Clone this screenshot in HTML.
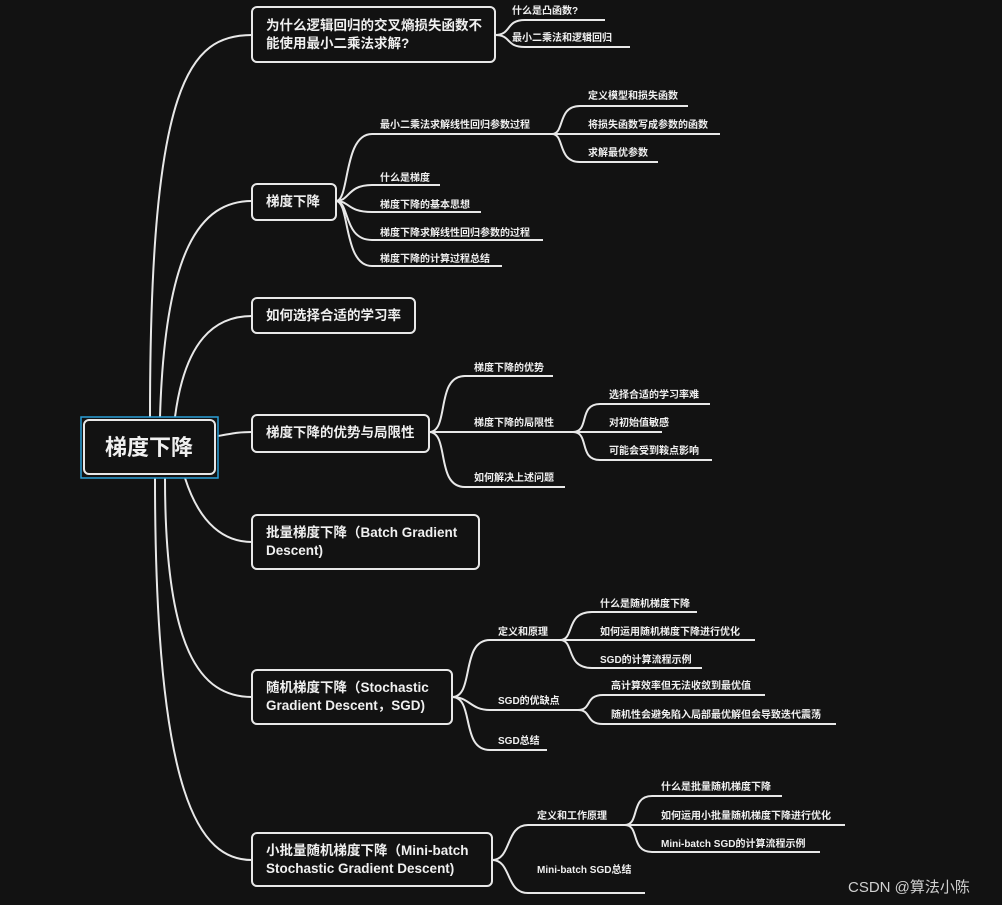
<!DOCTYPE html>
<html><head><meta charset="utf-8"><style>
html,body{margin:0;padding:0;background:#121212;}
svg{display:block}
text{font-family:"Liberation Sans","Noto Sans CJK SC",sans-serif;fill:#f0f0f0;font-weight:bold}
.b{font-size:13.5px}
.l{font-size:10px}
path,line{stroke:#e8e8e8;stroke-width:2;fill:none}
rect.n{fill:#121212;stroke:#e8e8e8;stroke-width:2}
</style></head><body>
<svg width="1002" height="905" viewBox="0 0 1002 905">
<rect width="1002" height="905" fill="#121212"/>
<path d="M150 417 C150 80,190 35,252 35"/>
<path d="M160 417 C165 250,200 201,252 201"/>
<path d="M175 417 C185 340,215 316,252 316"/>
<path d="M218 436 C235 433,240 432,252 432"/>
<path d="M185 478 C200 525,225 542,252 542"/>
<path d="M165 478 C165 650,200 697,252 697"/>
<path d="M155 478 C155 800,200 860,252 860"/>

<rect x="81" y="417" width="137" height="61" fill="none" stroke="#2a9fd8" stroke-width="1.5"/>
<rect class="n" x="84" y="420" width="131" height="54" rx="5" stroke-width="3"/>
<text x="149" y="455" text-anchor="middle" style="font-size:22px">梯度下降</text>

<rect class="n" x="252" y="7" width="243" height="55" rx="5"/>
<text class="b" x="266" y="30">为什么逻辑回归的交叉熵损失函数不</text>
<text class="b" x="266" y="48">能使用最小二乘法求解?</text>
<path d="M495 35 C512 35,505 20,525 20 L605 20"/>
<path d="M495 35 C512 35,505 47,525 47 L630 47"/>
<text class="l" x="512" y="14">什么是凸函数?</text>
<text class="l" x="512" y="41">最小二乘法和逻辑回归</text>

<rect class="n" x="252" y="184" width="84" height="36" rx="5"/>
<text class="b" x="266" y="206">梯度下降</text>
<path d="M336 201 C350 201,343 134,372 134 L552 134"/>
<path d="M336 201 C350 201,347 185,372 185 L440 185"/>
<path d="M336 201 C350 201,347 212,372 212 L481 212"/>
<path d="M336 201 C350 201,343 240,372 240 L543 240"/>
<path d="M336 201 C350 201,343 266,372 266 L502 266"/>
<text class="l" x="380" y="128">最小二乘法求解线性回归参数过程</text>
<text class="l" x="380" y="181">什么是梯度</text>
<text class="l" x="380" y="208">梯度下降的基本思想</text>
<text class="l" x="380" y="236">梯度下降求解线性回归参数的过程</text>
<text class="l" x="380" y="262">梯度下降的计算过程总结</text>
<path d="M552 134 C565 134,557 106,580 106 L688 106"/>
<path d="M552 134 L720 134"/>
<path d="M552 134 C565 134,557 162,580 162 L658 162"/>
<text class="l" x="588" y="99">定义模型和损失函数</text>
<text class="l" x="588" y="128">将损失函数写成参数的函数</text>
<text class="l" x="588" y="156">求解最优参数</text>

<rect class="n" x="252" y="298" width="163" height="35" rx="5"/>
<text class="b" x="266" y="320">如何选择合适的学习率</text>

<rect class="n" x="252" y="415" width="177" height="37" rx="5"/>
<text class="b" x="266" y="437">梯度下降的优势与局限性</text>
<path d="M429 432 C450 432,435 376,465 376 L553 376"/>
<path d="M429 432 L573 432"/>
<path d="M429 432 C450 432,435 487,465 487 L565 487"/>
<text class="l" x="474" y="371">梯度下降的优势</text>
<text class="l" x="474" y="426">梯度下降的局限性</text>
<text class="l" x="474" y="481">如何解决上述问题</text>
<path d="M573 432 C590 432,578 404,600 404 L710 404"/>
<path d="M573 432 L662 432"/>
<path d="M573 432 C590 432,578 460,600 460 L712 460"/>
<text class="l" x="609" y="398">选择合适的学习率难</text>
<text class="l" x="609" y="426">对初始值敏感</text>
<text class="l" x="609" y="454">可能会受到鞍点影响</text>

<rect class="n" x="252" y="515" width="227" height="54" rx="5"/>
<text class="b" x="266" y="537">批量梯度下降（Batch Gradient</text>
<text class="b" x="266" y="555">Descent)</text>

<rect class="n" x="252" y="670" width="200" height="54" rx="5"/>
<text class="b" x="266" y="692">随机梯度下降（Stochastic</text>
<text class="b" x="266" y="710">Gradient Descent，SGD)</text>
<path d="M452 697 C475 697,460 640,490 640 L560 640"/>
<path d="M452 697 C470 697,470 710,490 710 L578 710"/>
<path d="M452 697 C475 697,460 750,490 750 L547 750"/>
<text class="l" x="498" y="635">定义和原理</text>
<text class="l" x="498" y="704">SGD的优缺点</text>
<text class="l" x="498" y="744">SGD总结</text>
<path d="M560 640 C575 640,565 612,592 612 L697 612"/>
<path d="M560 640 L755 640"/>
<path d="M560 640 C575 640,565 668,592 668 L702 668"/>
<text class="l" x="600" y="607">什么是随机梯度下降</text>
<text class="l" x="600" y="635">如何运用随机梯度下降进行优化</text>
<text class="l" x="600" y="663">SGD的计算流程示例</text>
<path d="M578 710 C592 710,585 695,603 695 L765 695"/>
<path d="M578 710 C592 710,585 724,603 724 L836 724"/>
<text class="l" x="611" y="689">高计算效率但无法收敛到最优值</text>
<text class="l" x="611" y="718">随机性会避免陷入局部最优解但会导致迭代震荡</text>

<rect class="n" x="252" y="833" width="240" height="53" rx="5"/>
<text class="b" x="266" y="855">小批量随机梯度下降（Mini-batch</text>
<text class="b" x="266" y="873">Stochastic Gradient Descent)</text>
<path d="M492 860 C512 860,505 825,528 825 L625 825"/>
<path d="M492 860 C512 860,505 893,528 893 L645 893"/>
<text class="l" x="537" y="819">定义和工作原理</text>
<text class="l" x="537" y="873">Mini-batch SGD总结</text>
<path d="M625 825 C640 825,630 796,652 796 L782 796"/>
<path d="M625 825 L845 825"/>
<path d="M625 825 C640 825,630 852,652 852 L820 852"/>
<text class="l" x="661" y="790">什么是批量随机梯度下降</text>
<text class="l" x="661" y="819">如何运用小批量随机梯度下降进行优化</text>
<text class="l" x="661" y="847">Mini-batch SGD的计算流程示例</text>

<text x="848" y="892" style="font-size:15px;font-weight:normal;fill:#d0d0d0">CSDN @算法小陈</text>
</svg>
</body></html>
